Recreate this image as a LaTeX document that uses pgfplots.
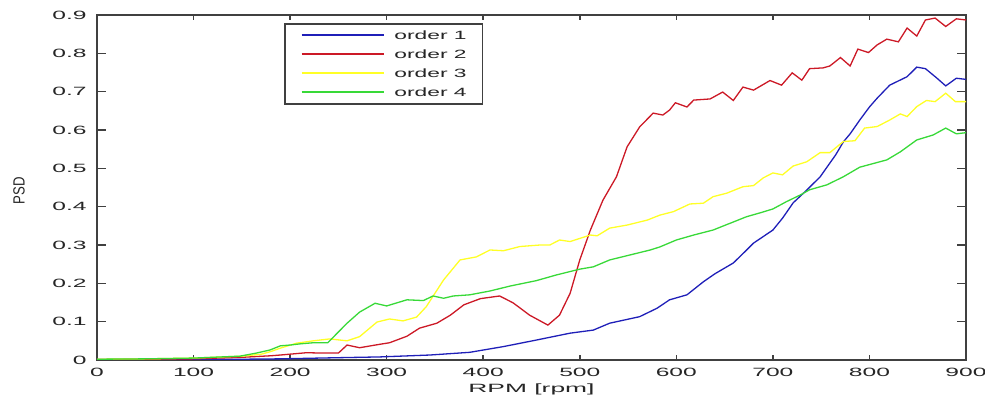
\documentclass[border=0pt]{standalone}
\usepackage{pgfplots}
\pgfplotsset{compat=1.18}
\usepackage{fontspec}
\setmainfont{Liberation Sans}
\definecolor{c1}{rgb}{0.12,0.12,0.72}
\definecolor{c2}{rgb}{0.80,0.10,0.15}
\definecolor{c3}{rgb}{1.00,1.00,0.15}
\definecolor{c4}{rgb}{0.22,0.85,0.22}
\definecolor{frame}{rgb}{0.25,0.25,0.25}
\begin{document}
\begin{tikzpicture}
\fontsize{6}{7}\selectfont
\useasboundingbox (-48.5pt,-20pt) rectangle (444pt,180pt);
\begin{axis}[
  scale only axis, width=434.5pt, height=172.5pt,
  xmin=0, xmax=900, ymin=0, ymax=0.9,
  xtick={0,100,...,900}, ytick={0,0.1,0.2,0.3,0.4,0.5,0.6,0.7,0.8,0.9},
  tick pos=both, tick align=inside,
  /pgf/number format/assume math mode=true,
  axis line style={frame, line width=0.9pt},
  every tick/.style={frame, line width=0.8pt},
  xtick style={/pgfplots/major tick length=2.5pt},
  ytick style={/pgfplots/major tick length=4.5pt},
  xticklabel={\scalebox{2.05}[1]{\pgfmathprintnumber{\tick}}},
  yticklabel={\scalebox{2.05}[1]{\pgfmathprintnumber[fixed,precision=1]{\tick}}},
  xticklabel style={inner sep=0pt, anchor=north, yshift=-4pt, text=black!85},
  yticklabel style={inner sep=0pt, anchor=east, xshift=-5pt, text=black!85},
  xlabel={\scalebox{2.2}[1]{RPM [rpm]}},
  ylabel={\scalebox{1.1}[1.35]{PSD}},
  xlabel style={at={(axis description cs:0.5,0)}, anchor=center, yshift=-14.5pt, text=black!85},
  ylabel style={at={(axis description cs:-0.0898,0.49)}, anchor=center, text=black!85},
  legend cell align=left,
  legend image code/.code={\draw[#1, line width=0.8pt] (0pt,0pt) -- (41pt,0pt);},
  legend style={at={(axis description cs:0.2152,0.9768)}, anchor=north west,
    draw=frame, line width=0.8pt, inner xsep=8pt, inner ysep=3.5pt,
    nodes={inner sep=0pt, text height=4.5pt, text depth=0pt, text=black!85},
    row sep=5pt, /tikz/every odd column/.append style={column sep=5pt}},
  every axis plot/.append style={line width=0.65pt},
]
\addplot[c1] coordinates {
(0,0.001)(50,0.001)(100,0.002)(150,0.002)(190,0.003)(250,0.006)(293,0.008)(345,0.013)
(386,0.020)(421,0.035)(455,0.052)(490,0.070)(514,0.078)(531,0.096)(562,0.113)(580,0.135)
(593,0.157)(611,0.170)(628,0.204)(640,0.225)(659,0.253)(670,0.280)(680,0.305)(700,0.339)
(710,0.370)(721,0.410)(735,0.443)(749,0.478)(756,0.503)(765,0.535)(773,0.569)(780,0.590)
(790,0.626)(800,0.660)(808,0.683)(821,0.717)(839,0.739)(849,0.764)(858,0.760)(870,0.735)
(879,0.715)(890,0.735)(900,0.732)};
\addlegendentry{\scalebox{1.9}[1]{order 1}}
\addplot[c2] coordinates {
(0,0.001)(50,0.002)(100,0.003)(150,0.007)(180,0.011)(190,0.013)(217,0.019)(234,0.018)
(250,0.018)(259,0.039)(272,0.032)(293,0.041)(303,0.045)(321,0.062)(334,0.083)(352,0.096)
(366,0.117)(380,0.144)(397,0.160)(417,0.167)(431,0.149)(448,0.117)(467,0.091)(479,0.117)
(490,0.174)(500,0.261)(511,0.339)(524,0.417)(538,0.478)(549,0.556)(562,0.608)(576,0.644)
(586,0.639)(593,0.652)(599,0.671)(611,0.660)(618,0.678)(635,0.681)(648,0.699)(659,0.677)
(669,0.712)(680,0.704)(697,0.729)(709,0.717)(720,0.749)(730,0.730)(738,0.760)(752,0.762)
(759,0.767)(770,0.789)(780,0.767)(788,0.811)(799,0.802)(808,0.822)(818,0.837)(830,0.830)
(839,0.866)(849,0.845)(858,0.887)(868,0.892)(879,0.870)(890,0.890)(900,0.887)};
\addlegendentry{\scalebox{1.9}[1]{order 2}}
\addplot[c3] coordinates {
(0,0.002)(50,0.003)(100,0.005)(150,0.010)(170,0.015)(180,0.022)(190,0.031)(207,0.044)
(224,0.050)(241,0.055)(259,0.050)(272,0.061)(290,0.099)(303,0.107)(317,0.102)(331,0.112)
(341,0.139)(359,0.209)(376,0.261)(393,0.269)(407,0.287)(421,0.285)(438,0.296)(459,0.300)
(469,0.300)(479,0.313)(490,0.309)(511,0.326)(518,0.324)(531,0.344)(549,0.352)(570,0.365)
(583,0.378)(597,0.387)(614,0.407)(628,0.409)(638,0.426)(652,0.435)(669,0.452)(680,0.455)
(690,0.475)(700,0.488)(710,0.483)(721,0.506)(735,0.517)(749,0.541)(759,0.541)(773,0.570)
(785,0.572)(795,0.605)(808,0.609)(821,0.626)(832,0.642)(839,0.635)(849,0.661)(859,0.677)
(868,0.674)(879,0.696)(889,0.674)(900,0.674)};
\addlegendentry{\scalebox{1.9}[1]{order 3}}
\addplot[c4] coordinates {
(0,0.002)(50,0.003)(100,0.005)(148,0.010)(165,0.018)(179,0.026)(190,0.037)(200,0.039)
(210,0.042)(224,0.045)(239,0.045)(259,0.096)(272,0.125)(288,0.148)(300,0.141)(321,0.157)
(338,0.155)(348,0.167)(359,0.161)(369,0.167)(386,0.170)(407,0.180)(428,0.193)(455,0.207)
(476,0.222)(500,0.237)(514,0.243)(531,0.261)(552,0.274)(573,0.287)(583,0.295)(600,0.313)
(618,0.326)(638,0.339)(656,0.357)(673,0.374)(687,0.384)(700,0.394)(714,0.413)(728,0.430)
(738,0.444)(756,0.457)(773,0.478)(790,0.503)(818,0.522)(832,0.543)(849,0.574)(866,0.587)
(879,0.605)(890,0.590)(900,0.593)};
\addlegendentry{\scalebox{1.9}[1]{order 4}}
\end{axis}
\end{tikzpicture}
\end{document}
